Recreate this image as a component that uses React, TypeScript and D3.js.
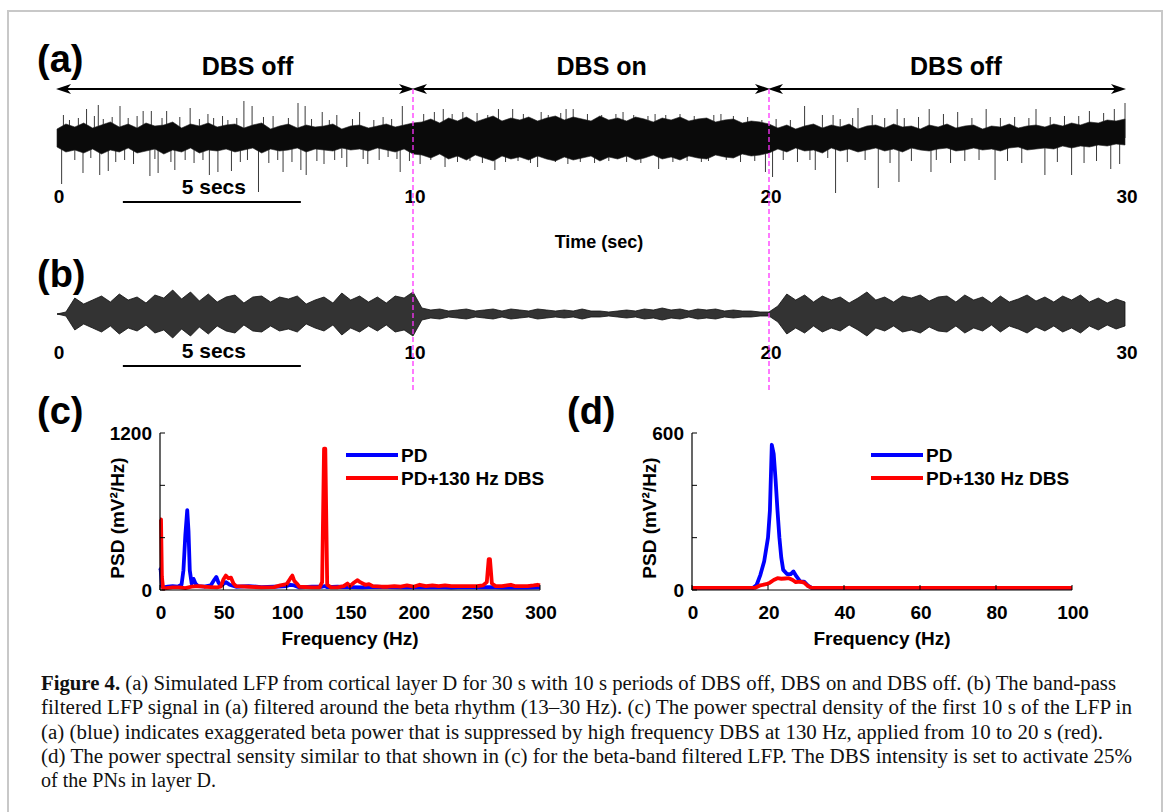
import React from "react";
import * as d3 from "d3";

// ---------- Panel (a)/(b) time axis ----------
const timeTicks = [0, 10, 20, 30];
const phaseBounds = [0, 10, 20, 30];
const phaseLabels = ["DBS off", "DBS on", "DBS off"];
const phaseLabelTimes = [5.35, 15.3, 25.25];
const dbsSwitchTimes = [10, 20];
const scaleBar = [1.85, 6.85];

// Raw LFP (a): dense core band, sampled every 0.25 s (upper / lower edge)
const coreStep = 0.25;
const coreHi = [9, 14, 11, 15, 10, 13, 16, 11, 14, 10, 15, 12, 13, 16, 10, 14, 12, 15, 11, 13, 14, 10, 13, 15, 9, 12, 14, 10, 13, 11, 12, 14, 9, 12, 13, 10, 12, 14, 11, 13, 15,
  16, 19, 15, 20, 17, 21, 16, 19, 22, 17, 20, 18, 21, 17, 20, 22, 18, 21, 19, 17, 22, 18, 20, 17, 21, 19, 16, 20, 18, 21, 17, 19, 20, 16, 18, 19, 15, 17, 16, 14,
  10, 13, 9, 12, 14, 10, 13, 11, 14, 9, 12, 13, 10, 14, 11, 12, 9, 13, 11, 14, 10, 12, 13, 9, 12, 11, 14, 10, 12, 13, 11, 14, 12, 15, 13, 16, 15, 18, 17, 19];
const coreLo = [-9, -14, -12, -15, -11, -16, -12, -14, -10, -15, -13, -11, -16, -12, -14, -10, -15, -12, -13, -11, -14, -12, -10, -15, -11, -13, -12, -10, -14, -11, -12, -13, -10, -12, -11, -13, -10, -12, -14, -11, -16,
  -17, -20, -16, -21, -18, -22, -17, -20, -23, -18, -21, -19, -22, -18, -21, -23, -19, -22, -20, -18, -23, -19, -21, -18, -22, -20, -17, -21, -19, -22, -18, -20, -21, -17, -19, -20, -16, -18, -17, -15,
  -11, -14, -10, -13, -12, -15, -10, -13, -11, -14, -12, -10, -13, -11, -14, -10, -12, -13, -11, -10, -13, -12, -10, -12, -11, -13, -10, -9, -12, -11, -10, -11, -8, -10, -8, -9, -7, -8, -6, -7];

// Raw LFP (a): visible spikes [time s, amplitude]
const spikesOff1: [number, number][] = [[0.13, -46], [0.18, 23], [0.35, 18], [0.5, -22], [0.6, 20], [0.73, -35], [0.83, 29], [0.95, -20], [1.05, 22], [1.16, 33], [1.2, -37], [1.3, 19], [1.44, -33], [1.55, 21], [1.65, -24], [1.77, 32], [1.9, -22], [2.0, 20], [2.15, -26], [2.25, 22], [2.42, 27], [2.61, -38], [2.65, 27], [2.75, -21], [2.84, -35], [2.95, 20], [3.08, 27], [3.2, -24], [3.31, -32], [3.45, 21], [3.6, -22], [3.74, 30], [3.85, -25], [4.0, 19], [4.1, -22], [4.24, 24], [4.28, -37], [4.4, 20], [4.52, -34], [4.65, 22], [4.8, 18], [4.9, -33], [5.05, 20], [5.15, -24], [5.25, 37], [5.35, -22], [5.48, 32], [5.66, -54], [5.8, 21], [5.95, -25], [6.07, 22], [6.2, -22], [6.35, -34], [6.5, 20], [6.6, -24], [6.77, 35], [6.85, -32], [6.97, 32], [7.0, -37], [7.15, 19], [7.3, -23], [7.45, 26], [7.5, -26], [7.65, 18], [7.8, -22], [7.86, 23], [8.0, -20], [8.14, -29], [8.3, 19], [8.5, 26], [8.6, -21], [8.73, -26], [8.9, 18], [9.05, -22], [9.16, 21], [9.3, -19], [9.4, 19], [9.55, -21], [9.64, -34], [9.7, 32], [9.9, -23]];
const spikesOn: [number, number][] = [[10.2, -26], [10.3, 24], [10.5, -22], [10.6, 26], [10.85, 29], [10.9, -29], [11.1, 24], [11.25, -24], [11.4, 26], [11.6, -23], [11.8, 25], [11.95, -25], [12.1, 23], [12.3, -32], [12.4, 29], [12.6, -24], [12.8, 29], [12.95, -23], [13.1, 24], [13.3, -25], [13.5, -29], [13.6, 26], [13.8, 23], [14.0, -24], [14.15, 25], [14.3, 29], [14.35, -26], [14.5, 29], [14.7, -24], [14.9, 24], [15.1, -25], [15.3, 23], [15.5, -23], [15.7, 24], [15.9, 26], [16.0, -24], [16.2, 23], [16.4, -25], [16.6, 22], [16.8, 24], [16.9, -31], [17.1, 23], [17.3, -24], [17.5, 24], [17.7, -23], [17.9, 22], [18.1, -24], [18.3, -23], [18.45, 23], [18.65, 24], [18.8, -22], [19.0, 22], [19.2, -24], [19.4, 21], [19.6, -23], [19.8, 18], [19.9, -34]];
const spikesOff2: [number, number][] = [[20.1, -39], [20.2, 19], [20.4, -22], [20.6, 18], [20.8, -24], [21.0, 32], [21.15, -22], [21.3, -32], [21.5, 23], [21.65, -20], [21.8, 23], [21.87, -55], [22.0, 19], [22.2, -24], [22.35, 20], [22.5, 30], [22.7, -22], [22.9, 23], [23.07, -50], [23.25, 20], [23.4, -25], [23.6, 29], [23.65, -44], [23.8, 20], [24.0, -23], [24.2, 21], [24.5, 29], [24.55, -34], [24.7, -22], [24.9, 24], [25.1, -25], [25.3, 26], [25.5, -23], [25.7, 20], [25.9, -22], [26.1, 29], [26.35, -42], [26.5, 20], [26.7, -23], [26.9, 21], [27.1, -25], [27.3, 20], [27.5, 29], [27.75, -37], [27.9, 21], [28.1, -24], [28.3, 22], [28.5, -37], [28.7, 22], [28.85, -25], [29.0, 27], [29.2, -23], [29.4, 25], [29.6, -31], [29.7, 29], [29.85, -26], [30.0, 35]];

// Beta-filtered LFP (b): envelope amplitude every 0.25 s
const betaStep = 0.25;
const betaEnv = [0, 2, 16, 10, 14, 18, 12, 20, 14, 17, 11, 19, 16, 24, 15, 22, 13, 20, 12, 17,
  19, 11, 17, 18, 12, 17, 15, 18, 10, 14, 17, 11, 21, 14, 18, 12, 17, 11, 18, 16,
  22, 6, 4, 5, 3, 4, 5, 3, 4, 5, 3, 5, 4, 3, 5, 4, 3, 4, 3, 5,
  3, 3, 2, 3, 4, 3, 5, 4, 6, 4, 5, 3, 5, 4, 5, 3, 4, 3, 3, 2,
  2, 8, 20, 14, 19, 12, 18, 14, 17, 11, 16, 22, 14, 17, 12, 18, 16, 19, 13, 17,
  18, 12, 19, 14, 17, 11, 18, 12, 15, 19, 13, 17, 12, 18, 14, 19, 12, 16, 11, 15, 12];

// ---------- Panel (c): PSD of raw LFP ----------
const cFreqTicks = [0, 50, 100, 150, 200, 250, 300];
const cPsdTicks = [0, 400, 800, 1200];
const cPsdLabels = [0, 1200];
const cFreqPD = [0, 0.5, 1.5, 3, 6, 10, 14, 17, 18.5, 20, 21.5, 22.5, 23.5, 25, 26.5, 28, 30, 35, 40, 43, 44.5, 46, 48, 50, 52, 55, 60, 70, 80, 90, 100, 103, 106, 110, 120, 128, 130, 132, 140, 150, 160, 170, 180, 190, 200, 210, 220, 230, 240, 250, 260, 270, 280, 290, 300];
const cPD = [150, 160, 30, 20, 25, 30, 25, 40, 150, 420, 610, 450, 150, 50, 85, 50, 30, 25, 35, 80, 100, 60, 30, 45, 60, 40, 25, 30, 22, 25, 30, 40, 35, 20, 25, 25, 30, 22, 25, 22, 20, 25, 22, 20, 22, 20, 22, 18, 22, 20, 22, 18, 20, 18, 20];
const cFreqDBS = [0, 0.8, 1.5, 2.5, 5, 10, 15, 20, 25, 30, 35, 40, 45, 48, 50, 52, 54, 56, 58, 60, 70, 80, 90, 95, 100, 103, 104.5, 106, 108, 110, 120, 126, 128, 129.5, 130.5, 132, 135, 140, 145, 148, 150, 153, 156, 158, 162, 165, 168, 175, 180, 185, 190, 195, 200, 205, 210, 215, 220, 225, 230, 240, 250, 255, 258, 259.5, 260.5, 262, 265, 270, 277, 280, 290, 295, 298, 300];
const cDBS = [540, 540, 100, 10, 15, 20, 20, 15, 25, 30, 25, 22, 20, 25, 80, 110, 90, 95, 50, 30, 25, 20, 22, 35, 45, 90, 110, 70, 50, 25, 20, 20, 60, 1080, 1080, 40, 20, 20, 30, 50, 30, 55, 75, 60, 40, 45, 30, 25, 25, 30, 25, 35, 25, 40, 30, 35, 30, 35, 30, 30, 30, 35, 60, 235, 235, 50, 30, 30, 40, 30, 30, 35, 40, 35];

// ---------- Panel (d): PSD of beta-band LFP ----------
const dFreqTicks = [0, 20, 40, 60, 80, 100];
const dPsdTicks = [0, 200, 400, 600];
const dPsdLabels = [0, 600];
const dFreqPD = [0, 16, 17, 18, 19, 20, 20.5, 21, 21.5, 22, 22.5, 23, 23.5, 24, 25, 26, 26.7, 27.5, 28.5, 29.5, 30.5, 31.5, 100];
const dPD = [8, 8, 19, 58, 110, 200, 303, 555, 520, 420, 303, 200, 123, 77, 61, 61, 71, 52, 32, 32, 17, 8, 8];
const dFreqDBS = [0, 16.5, 18, 19.5, 20.5, 21.5, 22.5, 23.5, 24.5, 25.5, 26.5, 27.3, 28.5, 29.5, 30.5, 31.5, 100];
const dDBS = [8, 8, 18, 22, 28, 38, 45, 43, 44, 45, 38, 30, 32, 28, 15, 8, 8];

const legendNames = ["PD", "PD+130 Hz DBS"];
const legendColors = ["#0000ff", "#ff0000"];

const captionLines = [
  " (a) Simulated LFP from cortical layer D for 30 s with 10 s periods of DBS off, DBS on and DBS off. (b) The band-pass",
  "filtered LFP signal in (a) filtered around the beta rhythm (13–30 Hz). (c) The power spectral density of the first 10 s of the LFP in",
  "(a) (blue) indicates exaggerated beta power that is suppressed by high frequency DBS at 130 Hz, applied from 10 to 20 s (red).",
  "(d) The power spectral sensity similar to that shown in (c) for the beta-band filtered LFP. The DBS intensity is set to activate 25%",
  "of the PNs in layer D.",
];
const captionWidths = [1075, 1091, 1062, 1091, 175];

const SANS = "'Liberation Sans', Arial, Helvetica, sans-serif";
const SERIF = "'Liberation Serif', 'Times New Roman', serif";

function arrowHead(x: number, y: number, dir: number) {
  return `M${x},${y} L${x - dir * 15},${y - 5} L${x - dir * 11},${y} L${x - dir * 15},${y + 5} Z`;
}

function PsdPanel(props: {
  x0: number; x1: number; yTop: number; yBot: number;
  fMax: number; pMax: number; fTicks: number[]; pTicks: number[]; pLabels: number[];
  series: { f: number[]; v: number[]; color: string }[];
  legendX: number; tag: string; tagX: number;
}) {
  const { x0, x1, yTop, yBot, fMax, pMax, fTicks, pTicks, pLabels, series, legendX, tag, tagX } = props;
  const xs = d3.scaleLinear().domain([0, fMax]).range([x0, x1]);
  const ys = d3.scaleLinear().domain([0, pMax]).range([yBot, yTop]);
  const legendY = [455, 478];
  return (
    <g>
      <text x={tagX} y={424} fontSize={38} fontWeight="bold" fontFamily={SANS}>{tag}</text>
      {series.map((s, k) => {
        const line = d3.line<number>().x((_, i) => xs(s.f[i])).y((v) => ys(v));
        return <path key={k} d={line(s.v) || ""} fill="none" stroke={s.color} strokeWidth={3.8} strokeLinejoin="round" />;
      })}
      <line x1={x0} x2={x0} y1={yTop} y2={yBot} stroke="#000" strokeWidth={1.2} />
      <line x1={x0} x2={x1} y1={yBot} y2={yBot} stroke="#000" strokeWidth={1.2} />
      {pTicks.map((p) => (
        <line key={"pt" + p} x1={x0} x2={x0 + 5} y1={ys(p)} y2={ys(p)} stroke="#000" strokeWidth={1} />
      ))}
      {fTicks.map((f) => (
        <line key={"ft" + f} x1={xs(f)} x2={xs(f)} y1={yBot} y2={yBot - 5} stroke="#000" strokeWidth={1} />
      ))}
      {pLabels.map((p) => (
        <text key={"pl" + p} x={x0 - 8} y={ys(p) + 7} textAnchor="end" fontSize={19} fontWeight="bold" fontFamily={SANS}>{p}</text>
      ))}
      {fTicks.map((f) => (
        <text key={"fl" + f} x={xs(f) + 1} y={619} textAnchor="middle" fontSize={19} fontWeight="bold" fontFamily={SANS}>{f}</text>
      ))}
      <text x={(x0 + x1) / 2} y={645} textAnchor="middle" fontSize={19} fontWeight="bold" fontFamily={SANS}>Frequency (Hz)</text>
      <text transform={`translate(${x0 - 36},${518}) rotate(-90)`} textAnchor="middle" fontSize={19} fontWeight="bold" fontFamily={SANS}>PSD (mV²/Hz)</text>
      {legendNames.map((n, k) => (
        <g key={n}>
          <line x1={legendX} x2={legendX + 52} y1={legendY[k]} y2={legendY[k]} stroke={legendColors[k]} strokeWidth={4} />
          <text x={legendX + 55} y={legendY[k] + 7} fontSize={19} fontWeight="bold" fontFamily={SANS}>{n}</text>
        </g>
      ))}
    </g>
  );
}

export default function App() {
  const xT = d3.scaleLinear().domain([0, 30]).range([57, 1125]);
  const yA = d3.scaleLinear().domain([-60, 60]).range([198, 78]);
  const yB = d3.scaleLinear().domain([-30, 30]).range([344, 284]);

  const coreArea = d3.area<number>()
    .x((_, i) => xT(i * coreStep))
    .y0((_, i) => yA(coreLo[i]))
    .y1((v) => yA(v));
  const betaArea = d3.area<number>()
    .x((_, i) => xT(i * betaStep))
    .y0((v) => yB(-v))
    .y1((v) => yB(v));

  const allSpikes = [...spikesOff1, ...spikesOn, ...spikesOff2];
  const arrowY = 89;

  return (
    <svg width={1170} height={812} style={{ position: "absolute", left: 0, top: 0, display: "block" }}>
      <rect x={0} y={0} width={1170} height={812} fill="#fff" />
      <rect x={8} y={11} width={1154} height={820} fill="none" stroke="#c8c8c8" strokeWidth={2} />

      {/* Panel (a) */}
      <text x={37} y={72} fontSize={38} fontWeight="bold" fontFamily={SANS}>(a)</text>
      {phaseLabels.map((lab, i) => (
        <text key={i} x={xT(phaseLabelTimes[i])} y={75} textAnchor="middle" fontSize={25} fontWeight="bold" fontFamily={SANS}>{lab}</text>
      ))}
      {phaseLabels.map((_, i) => {
        const a = xT(phaseBounds[i]);
        const b = xT(phaseBounds[i + 1]);
        return (
          <g key={"ar" + i}>
            <line x1={a + 4} x2={b - 4} y1={arrowY} y2={arrowY} stroke="#000" strokeWidth={2} />
            <path d={arrowHead(a - 1, arrowY, -1)} fill="#000" />
            <path d={arrowHead(b + 1, arrowY, 1)} fill="#000" />
          </g>
        );
      })}
      {allSpikes.map(([t, a], i) => (
        <line key={"sp" + i} x1={xT(t)} x2={xT(t)} y1={yA(0)} y2={yA(a)} stroke="#3a3a3a" strokeWidth={1} />
      ))}
      <path d={coreArea(coreHi) || ""} fill="#0a0a0a" stroke="#222" strokeWidth={0.6} />
      {timeTicks.map((t) => (
        <text key={"ta" + t} x={xT(t) + 2} y={203} textAnchor="middle" fontSize={19} fontWeight="bold" fontFamily={SANS}>{t}</text>
      ))}
      <line x1={xT(scaleBar[0])} x2={xT(scaleBar[1])} y1={202} y2={202} stroke="#000" strokeWidth={2} />
      <text x={xT((scaleBar[0] + scaleBar[1]) / 2) + 2} y={194} textAnchor="middle" fontSize={21} fontWeight="bold" fontFamily={SANS}>5 secs</text>
      <text x={599} y={248} textAnchor="middle" fontSize={18} fontWeight="bold" fontFamily={SANS}>Time (sec)</text>

      {/* Panel (b) */}
      <text x={37} y={287} fontSize={38} fontWeight="bold" fontFamily={SANS}>(b)</text>
      <line x1={xT(0)} x2={xT(30)} y1={yB(0)} y2={yB(0)} stroke="#222" strokeWidth={1} />
      <path d={betaArea(betaEnv) || ""} fill="#333" stroke="#111" strokeWidth={0.8} />
      {timeTicks.map((t) => (
        <text key={"tb" + t} x={xT(t) + 2} y={359} textAnchor="middle" fontSize={19} fontWeight="bold" fontFamily={SANS}>{t}</text>
      ))}
      <line x1={xT(scaleBar[0])} x2={xT(scaleBar[1])} y1={366} y2={366} stroke="#000" strokeWidth={2} />
      <text x={xT((scaleBar[0] + scaleBar[1]) / 2) + 2} y={358} textAnchor="middle" fontSize={21} fontWeight="bold" fontFamily={SANS}>5 secs</text>

      {/* DBS switch markers */}
      {dbsSwitchTimes.map((t) => (
        <line key={"sw" + t} x1={xT(t)} x2={xT(t)} y1={arrowY} y2={390} stroke="#ff33ff" strokeWidth={1.3} strokeDasharray="5,3" />
      ))}

      {/* Panel (c) */}
      <PsdPanel x0={160} x1={540} yTop={433} yBot={590} fMax={300} pMax={1200}
        fTicks={cFreqTicks} pTicks={cPsdTicks} pLabels={cPsdLabels}
        series={[{ f: cFreqPD, v: cPD, color: legendColors[0] }, { f: cFreqDBS, v: cDBS, color: legendColors[1] }]}
        legendX={346} tag="(c)" tagX={37} />
      {/* Panel (d) */}
      <PsdPanel x0={692} x1={1072} yTop={433} yBot={590} fMax={100} pMax={600}
        fTicks={dFreqTicks} pTicks={dPsdTicks} pLabels={dPsdLabels}
        series={[{ f: dFreqPD, v: dPD, color: legendColors[0] }, { f: dFreqDBS, v: dDBS, color: legendColors[1] }]}
        legendX={871} tag="(d)" tagX={567} />

      {/* Caption */}
      {captionLines.map((ln, i) => (
        <text key={"cap" + i} x={41} y={690 + i * 24.3} fontSize={20} fontFamily={SERIF} fill="#111"
          textLength={captionWidths[i]} lengthAdjust="spacingAndGlyphs">
          {i === 0 ? <tspan fontWeight="bold">Figure 4.</tspan> : null}
          {ln}
        </text>
      ))}
    </svg>
  );
}
